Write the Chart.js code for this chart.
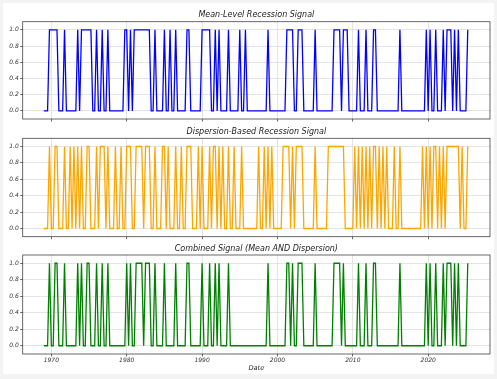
<!DOCTYPE html>
<html>
<head>
<meta charset="utf-8">
<script src="https://cdn.jsdelivr.net/npm/chart.js@4.4.1/dist/chart.umd.min.js"></script>
<style>
html,body{margin:0;padding:0;background:#f3f3f3;width:497px;height:379px;overflow:hidden;}
#fig{position:absolute;left:3px;top:3px;width:491px;height:371px;background:#ffffff;}
canvas{position:absolute;left:0;}
</style>
</head>
<body>
<div id="fig"></div>
<canvas id="c1" width="497" height="128" style="top:0px;width:497px;height:128px"></canvas>
<canvas id="c2" width="497" height="122" style="top:124px;width:497px;height:122px"></canvas>
<canvas id="c3" width="497" height="143" style="top:236px;width:497px;height:143px"></canvas>
<script>
// ---- data (quarterly, first quarter = 1969 Q1) ----
const startYear = 1969;
const quartersPerYear = 4;

const meanSignal = [
  0,0,0,1, // 1969
  1,1,1,1, // 1970
  0,0,0,1, // 1971
  0,0,0,0, // 1972
  0,0,1,0, // 1973
  1,1,1,1, // 1974
  1,1,0,0, // 1975
  1,0,0,1, // 1976
  0,0,1,0, // 1977
  0,0,0,0, // 1978
  0,0,0,1, // 1979
  1,0,1,0, // 1980
  1,1,1,1, // 1981
  1,1,1,1, // 1982
  1,0,0,1, // 1983
  0,0,0,0, // 1984
  1,0,0,1, // 1985
  0,0,1,0, // 1986
  0,0,0,0, // 1987
  1,1,0,0, // 1988
  0,0,0,0, // 1989
  1,1,1,1, // 1990
  1,0,0,1, // 1991
  0,1,0,0, // 1992
  0,0,1,0, // 1993
  0,0,0,0, // 1994
  1,0,0,1, // 1995
  0,0,0,0, // 1996
  0,0,0,0, // 1997
  0,0,0,1, // 1998
  0,0,0,0, // 1999
  0,0,0,0, // 2000
  0,1,1,1, // 2001
  1,0,0,1, // 2002
  1,1,0,0, // 2003
  0,0,0,0, // 2004
  1,0,0,0, // 2005
  0,0,0,0, // 2006
  0,0,1,1, // 2007
  1,1,0,1, // 2008
  1,1,0,0, // 2009
  0,0,0,1, // 2010
  0,0,0,1, // 2011
  0,0,0,1, // 2012
  1,0,0,0, // 2013
  0,0,0,0, // 2014
  0,0,0,0, // 2015
  0,1,0,0, // 2016
  0,0,0,0, // 2017
  0,0,0,0, // 2018
  0,0,0,1, // 2019
  0,1,0,0, // 2020
  1,0,0,0, // 2021
  1,0,1,1, // 2022
  1,0,1,0, // 2023
  1,0,0,0, // 2024
  0,1      // 2025
];

const dispersionSignal = [
  0,0,0,1, // 1969
  0,0,1,1, // 1970
  0,0,0,1, // 1971
  0,0,1,0, // 1972
  1,0,1,0, // 1973
  1,0,0,1, // 1974
  1,0,0,0, // 1975
  1,0,1,1, // 1976
  1,0,1,0, // 1977
  0,0,1,0, // 1978
  0,1,0,0, // 1979
  1,1,1,0, // 1980
  0,1,1,1, // 1981
  1,0,1,1, // 1982
  1,0,0,1, // 1983
  0,0,0,1, // 1984
  1,0,1,0, // 1985
  0,0,1,0, // 1986
  0,1,0,0, // 1987
  1,1,1,0, // 1988
  0,0,1,0, // 1989
  1,0,0,0, // 1990
  1,0,1,1, // 1991
  0,1,0,1, // 1992
  0,0,1,0, // 1993
  0,1,0,0, // 1994
  0,1,0,0, // 1995
  0,0,0,0, // 1996
  0,0,1,0, // 1997
  0,1,0,1, // 1998
  0,1,0,0, // 1999
  0,0,0,1, // 2000
  1,1,1,0, // 2001
  1,0,1,1, // 2002
  1,1,0,0, // 2003
  0,0,0,0, // 2004
  1,0,0,0, // 2005
  0,0,0,1, // 2006
  1,1,1,1, // 2007
  1,1,1,1, // 2008
  0,0,0,0, // 2009
  0,1,0,1, // 2010
  0,1,0,1, // 2011
  0,1,0,1, // 2012
  1,0,1,0, // 2013
  1,0,1,0, // 2014
  0,0,1,0, // 2015
  0,1,0,0, // 2016
  0,0,0,0, // 2017
  0,0,0,0, // 2018
  0,1,0,1, // 2019
  0,1,0,1, // 2020
  1,0,1,0, // 2021
  1,0,1,1, // 2022
  1,1,1,1, // 2023
  1,0,1,0, // 2024
  0,1      // 2025
];

const combinedSignal = [
  0,0,0,1, // 1969
  0,0,1,1, // 1970
  0,0,0,1, // 1971
  0,0,0,0, // 1972
  0,0,1,0, // 1973
  1,0,0,1, // 1974
  1,0,0,0, // 1975
  1,0,0,1, // 1976
  0,0,1,0, // 1977
  0,0,0,0, // 1978
  0,0,0,0, // 1979
  1,0,1,0, // 1980
  0,1,1,1, // 1981
  1,0,1,1, // 1982
  1,0,0,1, // 1983
  0,0,0,0, // 1984
  1,0,0,0, // 1985
  0,0,1,0, // 1986
  0,0,0,0, // 1987
  1,1,0,0, // 1988
  0,0,0,0, // 1989
  1,0,0,0, // 1990
  1,0,0,1, // 1991
  0,1,0,0, // 1992
  0,0,1,0, // 1993
  0,0,0,0, // 1994
  0,0,0,0, // 1995
  0,0,0,0, // 1996
  0,0,0,0, // 1997
  0,0,0,1, // 1998
  0,0,0,0, // 1999
  0,0,0,0, // 2000
  0,1,1,0, // 2001
  1,0,0,1, // 2002
  1,1,0,0, // 2003
  0,0,0,0, // 2004
  1,0,0,0, // 2005
  0,0,0,0, // 2006
  0,0,1,1, // 2007
  1,1,0,1, // 2008
  0,0,0,0, // 2009
  0,0,0,1, // 2010
  0,0,0,1, // 2011
  0,0,0,1, // 2012
  1,0,0,0, // 2013
  0,0,0,0, // 2014
  0,0,0,0, // 2015
  0,1,0,0, // 2016
  0,0,0,0, // 2017
  0,0,0,0, // 2018
  0,0,0,1, // 2019
  0,1,0,0, // 2020
  1,0,0,0, // 2021
  1,0,1,1, // 2022
  1,0,1,0, // 2023
  1,0,0,0, // 2024
  0,1      // 2025
];

const xTickYears = [1970, 1980, 1990, 2000, 2010, 2020];
const yTickValues = [0.0, 0.2, 0.4, 0.6, 0.8, 1.0];
const panelTitles = [
  'Mean-Level Recession Signal',
  'Dispersion-Based Recession Signal',
  'Combined Signal (Mean AND Dispersion)'
];
const xAxisTitle = 'Date';

// quarterly dates as decimal years (categories)
const dates = meanSignal.map((_, i) => startYear + i / quartersPerYear);

// ---- styling ----
Chart.defaults.font.family = "'DejaVu Sans', sans-serif";
Chart.defaults.color = '#333333';

const framePlugin = {
  id: 'frame',
  afterDatasetsDraw(chart) {
    const a = chart.chartArea;
    const ctx = chart.ctx;
    ctx.save();
    ctx.strokeStyle = '#444444';
    ctx.lineWidth = 0.8;
    ctx.strokeRect(a.left, a.top, a.right - a.left, a.bottom - a.top);
    ctx.restore();
  }
};

function makePanel(id, title, values, color, cfg) {
  const pts = values.map((v, i) => ({ x: dates[i], y: v }));
  return new Chart(document.getElementById(id), {
    type: 'line',
    data: { datasets: [{ data: pts, borderColor: color, borderWidth: 1.3, pointRadius: 0, tension: 0, fill: false }] },
    plugins: [framePlugin],
    options: {
      responsive: false,
      animation: false,
      devicePixelRatio: 1,
      layout: { padding: { left: 0, right: 7, top: 0, bottom: cfg.padBottom } },
      plugins: {
        legend: { display: false },
        tooltip: { enabled: false },
        title: {
          display: true, text: title, fullSize: false, color: '#222222',
          font: { size: 8, style: 'italic', weight: 'normal', lineHeight: 1.2 },
          padding: { top: cfg.titleTop, bottom: cfg.titleBottom }
        }
      },
      scales: {
        x: {
          type: 'linear', min: 1966.2, max: 2028.2,
          afterBuildTicks: s => { s.ticks = xTickYears.map(v => ({ value: v })); },
          afterFit: s => { s.height = cfg.xHeight; },
          grid: { color: '#dddddd', lineWidth: 0.8, tickLength: 2.5, tickColor: '#444444', drawTicks: true },
          border: { display: false },
          ticks: { display: cfg.showX, padding: 0, font: { size: 6, style: 'italic' }, color: '#333333', maxRotation: 0,
                   callback: v => String(v) },
          title: { display: cfg.showX, text: xAxisTitle, color: '#222222',
                   font: { size: 6.6, style: 'italic' }, padding: { top: 0, bottom: 3 } }
        },
        y: {
          type: 'linear', min: -0.1, max: 1.1,
          afterBuildTicks: s => { s.ticks = yTickValues.map(v => ({ value: v })); },
          afterFit: s => { s.width = 22.7; },
          grid: { color: '#dddddd', lineWidth: 0.8, tickLength: 2.5, tickColor: '#444444' },
          border: { display: false },
          ticks: { padding: 1.5, font: { size: 6, style: 'italic' }, color: '#333333',
                   callback: v => Number(v).toFixed(1) }
        }
      }
    }
  });
}

makePanel('c1', panelTitles[0], meanSignal, '#0000ff',
  { titleTop: 10.6, titleBottom: 1.5, xHeight: 9, padBottom: 0, showX: false });
makePanel('c2', panelTitles[1], dispersionSignal, '#ffa500',
  { titleTop: 3.2, titleBottom: 1.5, xHeight: 9.3, padBottom: 0, showX: false });
makePanel('c3', panelTitles[2], combinedSignal, '#008000',
  { titleTop: 7.9, titleBottom: 1.5, xHeight: 21, padBottom: 4, showX: true });
</script>
</body>
</html>
